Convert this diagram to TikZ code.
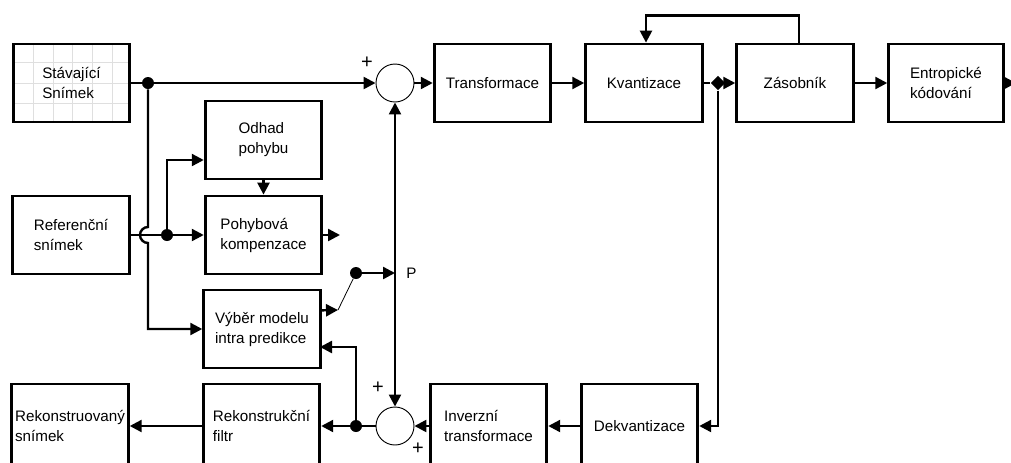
\documentclass[tikz,border=0pt]{standalone}
\usepackage{fontspec}
\setmainfont{Liberation Sans}
\usetikzlibrary{arrows.meta,shapes.geometric}
\begin{document}
\begin{tikzpicture}[x=0.75pt,y=-0.75pt,
    font=\fontsize{11.4}{15}\selectfont,
    blok/.style={draw, line width=2.1pt, rectangle, minimum width=87.5pt, minimum height=58.5pt, inner sep=0pt, align=left},
    dolni/.style={blok, minimum height=63pt},
    soucet/.style={circle, draw, line width=0.7pt, minimum size=28.5pt, inner sep=0pt},
    bod/.style={circle, fill, inner sep=0pt, minimum size=9pt},
    znam/.style={font=\fontsize{15}{15}\selectfont},
    spoj/.style={line width=1.8pt},
    >={Triangle[length=9pt,width=9pt]}]
    \useasboundingbox (0,0) rectangle (1011,462);
    \clip (0,0) rectangle (1011,462);
    % mrizka ve stavajicim snimku
    \foreach \x in {33,53,72,92,112}
        \draw[gray!25, line width=0.5pt] (\x,44) -- (\x,122);
    \foreach \y in {62,83,103}
        \draw[gray!25, line width=0.5pt] (13,\y) -- (130,\y);

    \draw(71.5,83) node [blok](stav){Stávající\\Snímek};
    \draw(71,235) node [blok](ref){Referenční\\snímek};
    \draw(263.5,140) node [blok](odhad){Odhad\\pohybu};
    \draw(263.5,235) node [blok](komp){Pohybová\\kompenzace};
    \draw(262,329) node [blok](vyber){Výběr modelu\\intra predikce};
    \draw(261.5,426) node [dolni](filtr){Rekonstrukční\\filtr};
    \draw(70,426) node [dolni, inner xsep=-4pt](rekon){Rekonstruovaný\\snímek};
    \draw(492.5,83) node [blok](trans){Transformace};
    \draw(644,83) node [blok](kvant){Kvantizace};
    \draw(795,83) node [blok](zas){Zásobník};
    \draw(946,83) node [blok, minimum width=86pt](entro){Entropické\\kódování};
    \draw(488.5,426) node [dolni](inv){Inverzní\\transformace};
    \draw(639.5,426) node [dolni](dekv){Dekvantizace};

    % scitacky
    \draw(395,83) node [soucet](sum1){};
    \draw(395,426) node [soucet](sum2){};
    \draw(367,63) node [znam](plus1){+};
    \draw(378,388) node [znam](plus2){+};
    \draw(418,449) node [znam](plus3){+};

    \draw(148,83) node [bod](d1){};
    \draw(167,235) node [bod](d2){};
    \draw(356,273) node [bod](d3){};
    \draw(718,83) node [bod, diamond, minimum size=11pt](d4){};
    \draw(356,426) node [bod](d5){};
    \coordinate (pbod) at (395,273);
    \coordinate (sw) at (338,310);
    \coordinate (kompout) at (340,235);
    \coordinate (vyin) at (320,347);
    \coordinate (ven) at (1016,83);
    \draw(pbod) node [right=5pt](plab){P};

    \draw[spoj,->] (stav) -- (sum1);
    \draw[spoj,->] (d1) -- (148,227) arc[start angle=-90, end angle=-270, radius=8] |- (vyber);
    \draw[spoj] (ref) -- (d2);
    \draw[spoj,->] (d2) -- (komp);
    \draw[spoj,->] (d2) |- ([yshift=-15pt]odhad.west);
    \draw[spoj,->] (odhad) -- (komp);
    \draw[spoj,->] (komp) -- (kompout);
    \draw[spoj,->] ([yshift=14pt]vyber.east) -- (sw);
    \draw[line width=0.6pt] (sw) -- (d3);
    \draw[spoj,->] (d3) -- (pbod);
    \draw[spoj,->] (pbod) -- (sum1);
    \draw[spoj,->] (pbod) -- (sum2);

    \draw[spoj,->] (sum1) -- (trans);
    \draw[spoj,->] (trans) -- (kvant);
    \draw[spoj] (kvant) -- (d4);
    \draw[spoj,->] (d4) -- (zas);
    \draw[spoj,->] (zas) -- (entro);
    \draw[spoj,->] (entro) -- (ven);
    \draw[spoj,->] ([xshift=3pt]zas.north) -- ++(0,-27) -| ([xshift=1.5pt]kvant.north);
    \draw[spoj,->] (d4) |- (dekv);
    \draw[spoj,->] (dekv) -- (inv);
    \draw[spoj,->] (inv) -- (sum2);
    \draw[spoj] (sum2) -- (d5);
    \draw[spoj,->] (d5) -- (filtr);
    \draw[spoj,->] (d5) |- (vyin);
    \draw[spoj,->] (filtr) -- (rekon);
\end{tikzpicture}
\end{document}
